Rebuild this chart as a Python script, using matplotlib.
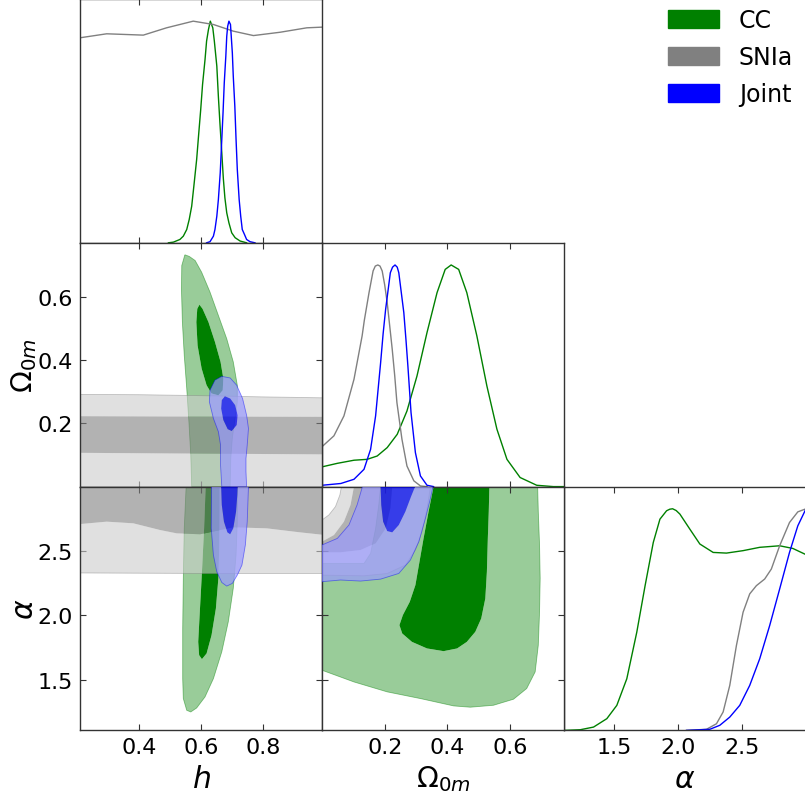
import numpy as np
import matplotlib
matplotlib.use("Agg")
import matplotlib.pyplot as plt
from matplotlib.path import Path
from matplotlib.patches import PathPatch, Patch

# axis ranges and ticks
h_lim = (0.21, 0.99)
om_lim = (0.0, 0.772)
al_lim = (1.108, 3.0)
h_ticks = [0.4, 0.6, 0.8]
om_ticks = [0.2, 0.4, 0.6]
al_ticks = [1.5, 2.0, 2.5]

# ---- 1D marginals (normalised to peak = 1) ----
h_cc_x = [0.495, 0.511, 0.532, 0.543, 0.554, 0.562, 0.570, 0.577, 0.586, 0.592, 0.599, 0.605, 0.613, 0.618, 0.624,
          0.630, 0.638, 0.643, 0.651, 0.656, 0.661, 0.667, 0.672, 0.677, 0.683, 0.690, 0.699, 0.710, 0.726, 0.747]
h_cc_p = [0.0, 0.003, 0.015, 0.03, 0.06, 0.105, 0.165, 0.256, 0.376, 0.481, 0.60, 0.714, 0.827, 0.91, 0.962,
          1.0, 0.97, 0.91, 0.797, 0.66, 0.54, 0.406, 0.29, 0.203, 0.135, 0.09, 0.045, 0.023, 0.008, 0.0]
h_sn_x = [0.21, 0.296, 0.414, 0.489, 0.575, 0.640, 0.704, 0.769, 0.855, 0.941, 0.99]
h_sn_p = [0.925, 0.943, 0.937, 0.970, 1.0, 0.985, 0.955, 0.935, 0.950, 0.970, 0.973]
h_jt_x = [0.618, 0.629, 0.640, 0.645, 0.651, 0.656, 0.662, 0.667, 0.671, 0.675, 0.680, 0.683, 0.686, 0.690, 0.695,
          0.701, 0.704, 0.709, 0.713, 0.717, 0.723, 0.728, 0.733, 0.740, 0.747, 0.758, 0.774]
h_jt_p = [0.0, 0.005, 0.03, 0.06, 0.12, 0.195, 0.316, 0.466, 0.586, 0.722, 0.842, 0.932, 0.977, 1.0, 0.985,
          0.857, 0.752, 0.617, 0.466, 0.331, 0.195, 0.12, 0.06, 0.038, 0.015, 0.005, 0.0]

om_cc_x = [0.0, 0.049, 0.102, 0.144, 0.176, 0.208, 0.24, 0.271, 0.303, 0.335, 0.367, 0.393, 0.412, 0.436, 0.462,
           0.494, 0.526, 0.558, 0.59, 0.632, 0.685, 0.738, 0.772]
om_cc_p = [0.089, 0.105, 0.119, 0.123, 0.138, 0.176, 0.236, 0.341, 0.499, 0.695, 0.875, 0.98, 1.0, 0.98, 0.875,
           0.68, 0.454, 0.259, 0.123, 0.041, 0.006, 0.0, 0.0]
om_sn_x = [0.0, 0.038, 0.07, 0.102, 0.128, 0.135, 0.15, 0.163, 0.170, 0.178, 0.185, 0.192, 0.200, 0.208, 0.224,
           0.232, 0.239, 0.255, 0.271, 0.293, 0.314, 0.335]
om_sn_p = [0.18, 0.229, 0.319, 0.484, 0.68, 0.75, 0.875, 0.973, 0.995, 1.0, 0.995, 0.973, 0.91, 0.83, 0.62,
           0.50, 0.379, 0.214, 0.093, 0.026, 0.003, 0.0]
om_jt_x = [0.0, 0.06, 0.102, 0.134, 0.155, 0.171, 0.187, 0.195, 0.203, 0.218, 0.225, 0.233, 0.240, 0.245, 0.261,
           0.268, 0.274, 0.284, 0.298, 0.314, 0.335, 0.356]
om_jt_p = [0.006, 0.014, 0.033, 0.078, 0.168, 0.319, 0.559, 0.69, 0.8, 0.965, 0.99, 1.0, 0.99, 0.965, 0.785,
           0.66, 0.544, 0.334, 0.153, 0.048, 0.006, 0.0]

al_cc_x = [1.105, 1.235, 1.339, 1.443, 1.521, 1.599, 1.677, 1.742, 1.806, 1.858, 1.91, 1.935, 1.957, 1.985,
           2.014, 2.092, 2.17, 2.274, 2.378, 2.508, 2.638, 2.794, 2.897, 3.0]
al_cc_p = [0.0, 0.003, 0.015, 0.053, 0.113, 0.233, 0.443, 0.653, 0.848, 0.953, 0.991, 0.998, 1.0, 0.992,
           0.976, 0.908, 0.841, 0.803, 0.80, 0.811, 0.826, 0.833, 0.821, 0.793]
al_sn_x = [2.066, 2.222, 2.3, 2.352, 2.404, 2.456, 2.508, 2.56, 2.612, 2.677, 2.729, 2.794, 2.871, 2.936, 3.0]
al_sn_p = [0.0, 0.005, 0.03, 0.083, 0.203, 0.383, 0.533, 0.616, 0.653, 0.683, 0.728, 0.833, 0.938, 0.986, 1.0]
al_jt_x = [2.066, 2.248, 2.326, 2.404, 2.482, 2.56, 2.638, 2.716, 2.794, 2.871, 2.936, 3.0]
al_jt_p = [0.0, 0.005, 0.023, 0.06, 0.113, 0.203, 0.323, 0.473, 0.638, 0.803, 0.923, 1.0]

# ---- 2D contours: (x, y) vertices of the 68% (inner) and 95% (outer) regions ----
# h vs Omega_0m
cc_h_om_out = [(0.548, 0.734), (0.562, 0.729), (0.581, 0.716), (0.602, 0.679), (0.629, 0.616), (0.656, 0.542),
               (0.683, 0.468), (0.704, 0.395), (0.717, 0.321), (0.717, 0.268), (0.710, 0.216), (0.701, 0.153),
               (0.696, 0.089), (0.694, 0.0), (0.570, 0.0), (0.567, 0.1), (0.561, 0.205), (0.554, 0.311),
               (0.546, 0.416), (0.540, 0.521), (0.537, 0.626), (0.538, 0.7)]
cc_h_om_in = [(0.595, 0.576), (0.605, 0.563), (0.624, 0.521), (0.645, 0.458), (0.663, 0.395), (0.672, 0.342),
              (0.670, 0.305), (0.656, 0.289), (0.634, 0.295), (0.618, 0.321), (0.602, 0.374), (0.589, 0.447),
              (0.585, 0.521), (0.588, 0.563)]
sn_h_om_out = [(0.2, 0.292), (0.4, 0.291), (0.6, 0.288), (0.8, 0.284), (1.0, 0.281), (1.0, 0.0), (0.2, 0.0)]
sn_h_om_in = [(0.2, 0.223), (0.5, 0.222), (1.0, 0.221), (1.0, 0.102), (0.5, 0.105), (0.2, 0.107)]
jt_h_om_out = [(0.667, 0.349), (0.694, 0.344), (0.715, 0.321), (0.734, 0.279), (0.747, 0.226), (0.753, 0.184),
               (0.749, 0.132), (0.745, 0.089), (0.745, 0.047), (0.747, 0.0), (0.667, 0.0), (0.663, 0.068),
               (0.663, 0.132), (0.656, 0.174), (0.640, 0.216), (0.627, 0.268), (0.629, 0.305), (0.645, 0.337)]
jt_h_om_in = [(0.677, 0.286), (0.694, 0.279), (0.710, 0.258), (0.718, 0.226), (0.715, 0.195), (0.699, 0.176),
              (0.686, 0.182), (0.672, 0.211), (0.665, 0.247), (0.667, 0.274)]

# h vs alpha
cc_h_al_out = [(0.552, 3.0), (0.546, 2.676), (0.543, 2.288), (0.541, 1.899), (0.541, 1.510), (0.543, 1.355),
               (0.554, 1.264), (0.567, 1.251), (0.586, 1.282), (0.613, 1.368), (0.640, 1.510), (0.667, 1.718),
               (0.688, 1.951), (0.704, 2.210), (0.713, 2.469), (0.717, 2.728), (0.718, 3.0)]
cc_h_al_in = [(0.615, 3.0), (0.610, 2.676), (0.602, 2.288), (0.595, 1.977), (0.591, 1.795), (0.594, 1.692),
              (0.603, 1.661), (0.618, 1.705), (0.634, 1.847), (0.648, 2.054), (0.656, 2.288), (0.659, 2.547),
              (0.660, 2.806), (0.660, 3.0)]
sn_h_al_out = [(0.2, 3.0), (1.0, 3.0), (1.0, 2.326), (0.6, 2.326), (0.2, 2.33)]
sn_h_al_in = [(0.2, 3.0), (1.0, 3.0), (1.0, 2.624), (0.919, 2.645), (0.812, 2.676), (0.704, 2.684),
              (0.597, 2.630), (0.522, 2.637), (0.468, 2.663), (0.382, 2.715), (0.296, 2.728), (0.2, 2.707)]
jt_h_al_out = [(0.634, 3.0), (0.633, 2.676), (0.640, 2.469), (0.651, 2.339), (0.667, 2.256), (0.683, 2.228),
               (0.701, 2.249), (0.717, 2.313), (0.732, 2.391), (0.743, 2.547), (0.749, 2.728), (0.753, 3.0)]
jt_h_al_in = [(0.665, 3.0), (0.667, 2.858), (0.674, 2.728), (0.685, 2.645), (0.694, 2.630), (0.704, 2.676),
              (0.713, 2.806), (0.717, 2.935), (0.718, 3.0)]

# Omega_0m vs alpha
cc_om_al_out = [(0.0, 2.404), (0.134, 2.404), (0.155, 2.482), (0.171, 2.676), (0.181, 2.858), (0.187, 3.0),
                (0.688, 3.0), (0.690, 2.806), (0.694, 2.547), (0.696, 2.288), (0.694, 2.028), (0.690, 1.769),
                (0.680, 1.562), (0.653, 1.433), (0.611, 1.350), (0.547, 1.303), (0.473, 1.288), (0.420, 1.298),
                (0.314, 1.355), (0.208, 1.407), (0.102, 1.484), (0.0, 1.575)]
cc_om_al_in = [(0.356, 3.0), (0.340, 2.806), (0.324, 2.598), (0.311, 2.417), (0.298, 2.236), (0.280, 2.106),
               (0.258, 2.003), (0.247, 1.925), (0.256, 1.860), (0.287, 1.795), (0.335, 1.744), (0.388, 1.723),
               (0.431, 1.744), (0.462, 1.795), (0.489, 1.873), (0.508, 1.977), (0.521, 2.132), (0.526, 2.339),
               (0.529, 2.598), (0.532, 2.806), (0.534, 3.0)]
sn_om_al_out = [(0.0, 2.741), (0.022, 2.780), (0.043, 2.845), (0.057, 2.935), (0.062, 3.0), (0.346, 3.0),
                (0.335, 2.832), (0.319, 2.650), (0.298, 2.508), (0.266, 2.391), (0.208, 2.326), (0.134, 2.308),
                (0.0, 2.313)]
sn_om_al_in = [(0.0, 2.573), (0.038, 2.624), (0.070, 2.728), (0.091, 2.858), (0.102, 3.0), (0.224, 3.0),
               (0.218, 2.832), (0.203, 2.676), (0.171, 2.560), (0.123, 2.508), (0.059, 2.490), (0.0, 2.490)]
jt_om_al_out = [(0.129, 3.0), (0.112, 2.858), (0.086, 2.702), (0.049, 2.598), (0.0, 2.547), (0.0, 2.262),
                (0.059, 2.275), (0.123, 2.267), (0.187, 2.282), (0.245, 2.326), (0.282, 2.430), (0.309, 2.573),
                (0.330, 2.754), (0.346, 2.909), (0.354, 3.0)]
jt_om_al_in = [(0.187, 3.0), (0.189, 2.858), (0.195, 2.728), (0.208, 2.655), (0.224, 2.645), (0.245, 2.702),
               (0.266, 2.806), (0.284, 2.922), (0.297, 3.0)]

labels = ["CC", "SNIa", "Joint"]
colors = ["green", "gray", "blue"]
alphas = [1.0, 0.6, 0.7]

W, H = 805, 804
fig = plt.figure(figsize=(W / 100, H / 100), dpi=100)


def panel(col, row):
    ph = 243.8
    ax = fig.add_axes([(80 + 242 * col) / W, 1 - (ph * row + ph) / H, 242 / W, ph / H])
    for s in ax.spines.values():
        s.set_color("#333333")
        s.set_linewidth(1.0)
    ax.tick_params(direction="in", length=4, width=0.8, color="#333333", labelsize=16, pad=5,
                   top=True, right=True)
    return ax


def pale(c):
    rgb = np.array(matplotlib.colors.to_rgb(c))
    return tuple(rgb * 0.4 + 0.6)


def ring(outer, inner):
    o = np.asarray(outer, float)
    i = np.asarray(inner, float)

    def area(p):
        return np.sum(p[:, 0] * np.roll(p[:, 1], -1) - np.roll(p[:, 0], -1) * p[:, 1])
    if np.sign(area(o)) == np.sign(area(i)):
        i = i[::-1]
    verts = np.concatenate([o, o[:1], i, i[:1]])
    codes = ([Path.MOVETO] + [Path.LINETO] * (len(o) - 1) + [Path.CLOSEPOLY] +
             [Path.MOVETO] + [Path.LINETO] * (len(i) - 1) + [Path.CLOSEPOLY])
    return Path(verts, codes)


def contour2d(ax, outer, inner, color, alpha, z):
    ax.add_patch(PathPatch(ring(outer, inner), facecolor=pale(color), edgecolor="none", alpha=alpha, zorder=z))
    ax.add_patch(PathPatch(Path(np.asarray(inner + inner[:1])), facecolor=color, edgecolor="none",
                           alpha=alpha, zorder=z))
    ax.add_patch(PathPatch(Path(np.asarray(outer + outer[:1])), facecolor="none", edgecolor=color,
                           lw=0.6, alpha=0.45, zorder=z + 0.1))


# 1D panels
ax_h = panel(0, 0)
ax_om = panel(1, 1)
ax_al = panel(2, 2)
for ax, xs, lim, ticks in [(ax_h, [(h_cc_x, h_cc_p), (h_sn_x, h_sn_p), (h_jt_x, h_jt_p)], h_lim, h_ticks),
                           (ax_om, [(om_cc_x, om_cc_p), (om_sn_x, om_sn_p), (om_jt_x, om_jt_p)], om_lim, om_ticks),
                           (ax_al, [(al_cc_x, al_cc_p), (al_sn_x, al_sn_p), (al_jt_x, al_jt_p)], al_lim, al_ticks)]:
    for (x, p), c in zip(xs, colors):
        ax.plot(x, p, color=c, lw=1.0, solid_joinstyle="round")
    ax.set_xlim(lim)
    ax.set_ylim(0, 1.1)
    ax.set_xticks(ticks)
    ax.set_yticks([])
    ax.tick_params(left=False, right=False)
ax_h.set_xticklabels([])
ax_om.set_xticklabels([])

# 2D panels
ax_hom = panel(0, 1)
ax_hal = panel(0, 2)
ax_omal = panel(1, 2)
sets = [(ax_hom, [(cc_h_om_out, cc_h_om_in), (sn_h_om_out, sn_h_om_in), (jt_h_om_out, jt_h_om_in)], h_lim, om_lim, h_ticks, om_ticks),
        (ax_hal, [(cc_h_al_out, cc_h_al_in), (sn_h_al_out, sn_h_al_in), (jt_h_al_out, jt_h_al_in)], h_lim, al_lim, h_ticks, al_ticks),
        (ax_omal, [(cc_om_al_out, cc_om_al_in), (sn_om_al_out, sn_om_al_in), (jt_om_al_out, jt_om_al_in)], om_lim, al_lim, om_ticks, al_ticks)]
for ax, cons, xl, yl, xt, yt in sets:
    for z, ((o, i), c, a) in enumerate(zip(cons, colors, alphas)):
        contour2d(ax, o, i, c, a, z + 1)
    ax.set_xlim(xl)
    ax.set_ylim(yl)
    ax.set_xticks(xt)
    ax.set_yticks(yt)
ax_hom.set_xticklabels([])
ax_omal.set_yticklabels([])

ax_hal.set_xlabel(r"$h$", fontsize=21.5, labelpad=4.5)
ax_omal.set_xlabel(r"$\Omega_{0m}$", fontsize=20.5, labelpad=4.5)
ax_al.set_xlabel(r"$\alpha$", fontsize=21.5, labelpad=4.5)
ax_hom.set_ylabel(r"$\Omega_{0m}$", fontsize=20.5, labelpad=-1)
ax_hal.set_ylabel(r"$\alpha$", fontsize=21.5, labelpad=-1)

handles = [Patch(facecolor=c, edgecolor=c) for c in colors]
fig.legend(handles, labels, loc="upper left", bbox_to_anchor=(668 / W, 1 - 9 / H), frameon=False,
           fontsize=17, handlelength=2.15, handleheight=0.8, handletextpad=0.85, labelspacing=0.56,
           borderpad=0, borderaxespad=0)

fig.savefig("out.png", dpi=100)
